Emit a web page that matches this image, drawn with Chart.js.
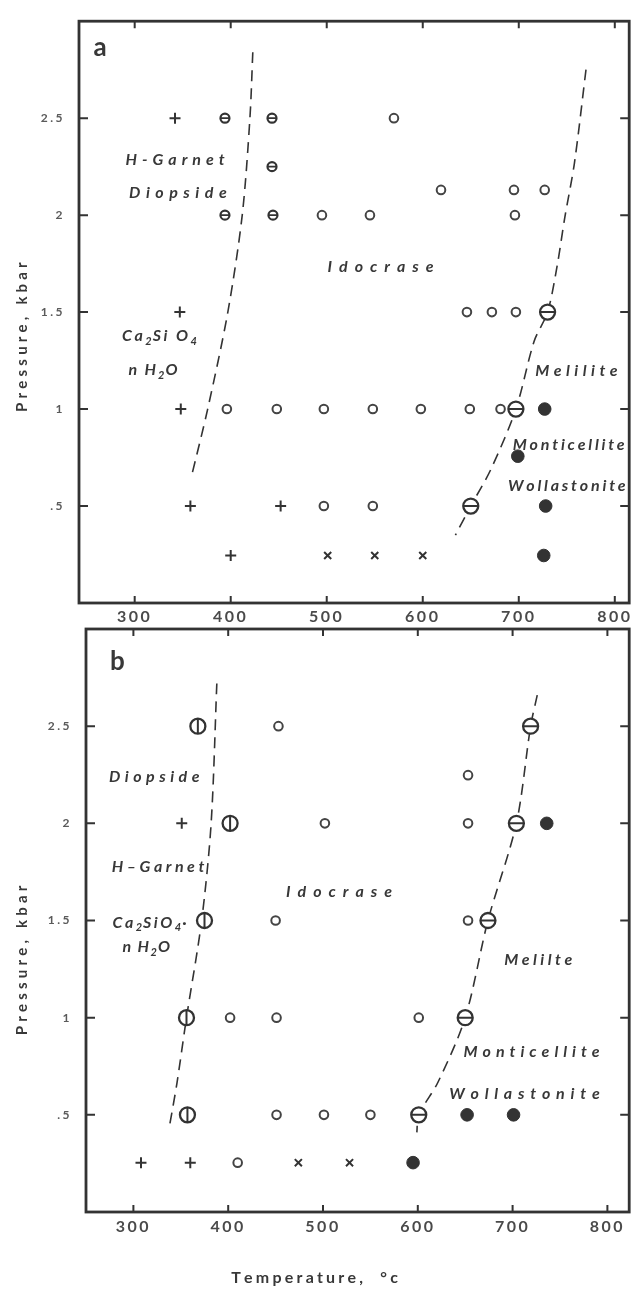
<!DOCTYPE html>
<html><head><meta charset="utf-8">
<script src="https://cdn.jsdelivr.net/npm/chart.js@4"></script>
<style>
html,body{margin:0;padding:0;background:#fff;}
#wrap{position:relative;width:639px;height:1292px;overflow:hidden;background:#fff;}
canvas{position:absolute;left:0;}
</style></head><body>
<div id="wrap">
<canvas id="ca" width="639" height="640" style="top:0px"></canvas>
<canvas id="cb" width="639" height="692" style="top:600px"></canvas>
</div>
<script>
// ---------- shared axis data ----------
const xTicks = [300, 400, 500, 600, 700, 800];
const yTicks = [0.5, 1, 1.5, 2, 2.5];
const yTickLabels = ['.5', '1', '1.5', '2', '2.5'];
const yTitle = 'Pressure, kbar';
const xTitle = 'Temperature,  \u00b0c';

// ---------- panel a ----------
const aPlusX = [342, 347, 348, 358, 452, 400];
const aPlusY = [2.5, 1.5, 1.0, 0.5, 0.5, 0.245];
const aCrossX = [501, 550, 600];
const aCrossY = [0.245, 0.245, 0.245];
const aOpenX = [570, 619, 695, 727, 495, 545, 696, 646, 672, 697, 396, 448, 497, 548, 598, 649, 681, 497, 548];
const aOpenY = [2.5, 2.13, 2.13, 2.13, 2.0, 2.0, 2.0, 1.5, 1.5, 1.5, 1.0, 1.0, 1.0, 1.0, 1.0, 1.0, 1.0, 0.5, 0.5];
const aSmallBarX = [394, 443, 443, 394, 444];
const aSmallBarY = [2.5, 2.5, 2.25, 2.0, 2.0];
const aBigHBarX = [730, 697, 650];
const aBigHBarY = [1.5, 1.0, 0.5];
const aFilledX = [727, 699, 728, 726];
const aFilledY = [1.0, 0.757, 0.5, 0.245];
const aLeftLineX = [423, 420, 412, 397, 376, 359];
const aLeftLineY = [2.84, 2.5, 2.0, 1.5, 1.0, 0.65];
const aRightLineX = [770, 758, 748, 740, 730, 716, 697, 671, 650, 634];
const aRightLineY = [2.75, 2.27, 1.99, 1.74, 1.5, 1.35, 1.0, 0.69, 0.5, 0.35];
const aLabelText = ['a', 'H-Garnet', 'Diopside', 'Idocrase', 'Ca_2Si O_4', 'n H_2O', 'Melilite', 'Monticellite', 'Wollastonite'];
const aLabelX = [264, 342, 345, 556, 325, 319, 760, 752, 750];
const aLabelY = [2.866, 2.286, 2.113, 1.732, 1.375, 1.2, 1.197, 0.816, 0.602];

// ---------- panel b ----------
const bPlusX = [351, 308, 360];
const bPlusY = [2.0, 0.254, 0.254];
const bCrossX = [474, 528];
const bCrossY = [0.254, 0.254];
const bOpenX = [453, 653, 502, 653, 450, 653, 402, 451, 601, 451, 501, 550, 410];
const bOpenY = [2.5, 2.248, 2.0, 2.0, 1.5, 1.5, 1.0, 1.0, 1.0, 0.5, 0.5, 0.5, 0.254];
const bVBarX = [368, 402, 375, 356, 357];
const bVBarY = [2.5, 2.0, 1.5, 1.0, 0.5];
const bHBarX = [719, 704, 674, 650, 601];
const bHBarY = [2.5, 2.0, 1.5, 1.0, 0.5];
const bFilledX = [736, 652, 701, 595];
const bFilledY = [2.0, 0.5, 0.5, 0.254];
const bLeftLineX = [388, 382, 372, 356, 346, 338];
const bLeftLineY = [2.72, 2.0, 1.5, 1.0, 0.665, 0.44];
const bRightLineX = [726, 719, 704, 674, 650, 621, 601, 599];
const bRightLineY = [2.66, 2.5, 2.0, 1.5, 1.0, 0.665, 0.5, 0.41];
const bLabelText = ['b', 'Diopside', 'H\u2013Garnet', 'Ca_2SiO_4\u00b7', 'n H_2O', 'Idocrase', 'Melilte', 'Monticellite', 'Wollastonite'];
const bLabelX = [283, 322, 326, 317, 313.5, 517, 727, 720, 712.5];
const bLabelY = [2.83, 2.238, 1.775, 1.49, 1.364, 1.647, 1.297, 0.824, 0.608];

// ---------- helpers ----------
const INK = '#333333';
const TXT = '#383838';
const FONT = 'Lato, "Open Sans", "DejaVu Sans", sans-serif';
function pts(xs, ys) { return xs.map((x, i) => ({ x: x, y: ys[i] })); }

function drawRich(ctx, text, cx, cy, size, spacing, weight, italic) {
  const segs = [];
  for (let i = 0; i < text.length; i++) {
    if (text[i] === '_') { segs.push({ t: text[i + 1], sub: true }); i++; }
    else segs.push({ t: text[i], sub: false });
  }
  const font = (sub) => (italic ? 'italic ' : '') + weight + ' ' + (sub ? Math.round(size * 0.68) : size) + 'px ' + FONT;
  let w = 0;
  segs.forEach(s => { ctx.font = font(s.sub); s.w = ctx.measureText(s.t).width + (s.sub ? 1 : spacing); w += s.w; });
  w -= spacing;
  let px = cx - w / 2;
  ctx.textBaseline = 'middle';
  ctx.textAlign = 'left';
  segs.forEach(s => {
    ctx.font = font(s.sub);
    ctx.fillText(s.t, px, cy + (s.sub ? size * 0.34 : 0));
    px += s.w;
  });
}

function buildDatasets(d) {
  const sets = [];
  if (d.hBar) sets.push({ data: d.hBar, pointStyle: 'line', pointRadius: 7.5, borderWidth: 2, borderColor: INK, rotation: 0 });
  if (d.vBar) sets.push({ data: d.vBar, pointStyle: 'line', pointRadius: 7.5, borderWidth: 2, borderColor: INK, rotation: 90 });
  if (d.hBar) sets.push({ data: d.hBar, pointStyle: 'circle', pointRadius: 7.5, borderWidth: 2.3, borderColor: INK, backgroundColor: '#fff' });
  if (d.vBar) sets.push({ data: d.vBar, pointStyle: 'circle', pointRadius: 7.5, borderWidth: 2.3, borderColor: INK, backgroundColor: '#fff' });
  if (d.smallBar) {
    sets.push({ data: d.smallBar, pointStyle: 'line', pointRadius: 4.5, borderWidth: 1.8, borderColor: INK, rotation: 0 });
    sets.push({ data: d.smallBar, pointStyle: 'circle', pointRadius: 4.5, borderWidth: 2.2, borderColor: INK, backgroundColor: '#fff' });
  }
  sets.push({ data: d.filled, pointStyle: 'circle', pointRadius: 6.3, borderWidth: 1, borderColor: INK, backgroundColor: INK });
  sets.push({ data: d.open, pointStyle: 'circle', pointRadius: 4.3, borderWidth: 2, borderColor: '#444', backgroundColor: '#fff' });
  sets.push({ data: d.plus, pointStyle: 'cross', pointRadius: 5.5, borderWidth: 2, borderColor: INK });
  sets.push({ data: d.cross, pointStyle: 'crossRot', pointRadius: 5, borderWidth: 2, borderColor: INK });
  d.lines.forEach(l => sets.push({ data: l, showLine: true, pointRadius: 0, borderColor: INK, borderWidth: 1.6, borderDash: [11, 7], tension: 0.3, fill: false }));
  return sets;
}

function decor(cfg) {
  return {
    id: 'decor',
    beforeDraw(chart) {
      chart.ctx.letterSpacing = '2.5px';
    },
    afterDraw(chart) {
      const ctx = chart.ctx, ca = chart.chartArea, xs = chart.scales.x, ys = chart.scales.y;
      ctx.save();
      ctx.letterSpacing = '0px';
      ctx.strokeStyle = INK;
      ctx.lineWidth = 2;
      ctx.beginPath();
      xTicks.forEach(v => {
        const p = xs.getPixelForValue(v);
        ctx.moveTo(p, ca.bottom); ctx.lineTo(p, ca.bottom - 7);
        ctx.moveTo(p, ca.top); ctx.lineTo(p, ca.top + 7);
      });
      yTicks.forEach(v => {
        const p = ys.getPixelForValue(v);
        ctx.moveTo(ca.left, p); ctx.lineTo(ca.left + 9, p);
        ctx.moveTo(ca.right, p); ctx.lineTo(ca.right - 9, p);
      });
      ctx.stroke();
      ctx.lineWidth = 2.8;
      ctx.strokeRect(ca.left, ca.top, ca.right - ca.left, ca.bottom - ca.top);
      ctx.fillStyle = TXT;
      cfg.labels.forEach((t, i) => {
        const px = xs.getPixelForValue(cfg.lx[i]), py = ys.getPixelForValue(cfg.ly[i]);
        if (t.length === 1) drawRich(ctx, t, px, py, 26, 0, 'bold', false);
        else drawRich(ctx, t, px, py, 16, cfg.spacing[i], 'bold', true);
      });
      ctx.save();
      ctx.translate(22, (ca.top + ca.bottom) / 2 + cfg.yTitleShift);
      ctx.rotate(-Math.PI / 2);
      drawRich(ctx, yTitle, 0, 0, 15, 4.2, 'bold', false);
      ctx.restore();
      if (cfg.xTitle) {
        drawRich(ctx, xTitle, (ca.left + ca.right) / 2 + cfg.xTitleShift, ca.bottom + 66, 16, 3.2, 'bold', false);
      }
      ctx.restore();
    }
  };
}

function makeChart(id, d, xmin, xmax, yWidth, xHeight, pad, cfg) {
  return new Chart(document.getElementById(id), {
    type: 'scatter',
    data: { datasets: buildDatasets(d) },
    options: {
      responsive: false, animation: false, devicePixelRatio: 1,
      layout: { padding: pad },
      plugins: { legend: { display: false }, tooltip: { enabled: false } },
      scales: {
        x: {
          type: 'linear', min: xmin, max: xmax,
          afterBuildTicks: s => { s.ticks = xTicks.map(v => ({ value: v })); },
          afterFit: s => { s.height = xHeight; },
          grid: { display: false, drawTicks: false }, border: { display: false },
          ticks: { padding: cfg.xPad, color: '#4a4a4a', font: { family: FONT, size: 16, weight: 'bold' }, callback: v => String(v) }
        },
        y: {
          type: 'linear', min: 0, max: 3,
          afterBuildTicks: s => { s.ticks = yTicks.map(v => ({ value: v })); },
          afterFit: s => { s.width = yWidth; },
          grid: { display: false, drawTicks: false }, border: { display: false },
          ticks: { padding: 14, color: '#5a5a5a', font: { family: FONT, size: 12, weight: 'bold' }, callback: v => yTickLabels[yTicks.indexOf(v)] }
        }
      }
    },
    plugins: [decor(cfg)]
  });
}

makeChart('ca', {
  plus: pts(aPlusX, aPlusY), cross: pts(aCrossX, aCrossY), open: pts(aOpenX, aOpenY),
  smallBar: pts(aSmallBarX, aSmallBarY), hBar: pts(aBigHBarX, aBigHBarY), filled: pts(aFilledX, aFilledY),
  lines: [pts(aLeftLineX, aLeftLineY), pts(aRightLineX, aRightLineY)]
}, 242, 815, 79, 37, { top: 13, right: 6, left: 0, bottom: 0 },
  { labels: aLabelText, lx: aLabelX, ly: aLabelY, spacing: [0, 5, 5.5, 7, 2.5, 2, 4.5, 2.8, 2.8], yTitleShift: 25, xTitle: false, xPad: 4 });

makeChart('cb', {
  plus: pts(bPlusX, bPlusY), cross: pts(bCrossX, bCrossY), open: pts(bOpenX, bOpenY),
  vBar: pts(bVBarX, bVBarY), hBar: pts(bHBarX, bHBarY), filled: pts(bFilledX, bFilledY),
  lines: [pts(bLeftLineX, bLeftLineY), pts(bRightLineX, bRightLineY)]
}, 250, 823, 86, 80, { top: 29, right: 3, left: 0, bottom: 0 },
  { labels: bLabelText, lx: bLabelX, ly: bLabelY, spacing: [0, 4.5, 3.5, 2.5, 1.5, 7, 3.5, 5, 5.8], yTitleShift: 40, xTitle: true, xTitleShift: -43, xPad: 5 });
</script>
</body></html>
